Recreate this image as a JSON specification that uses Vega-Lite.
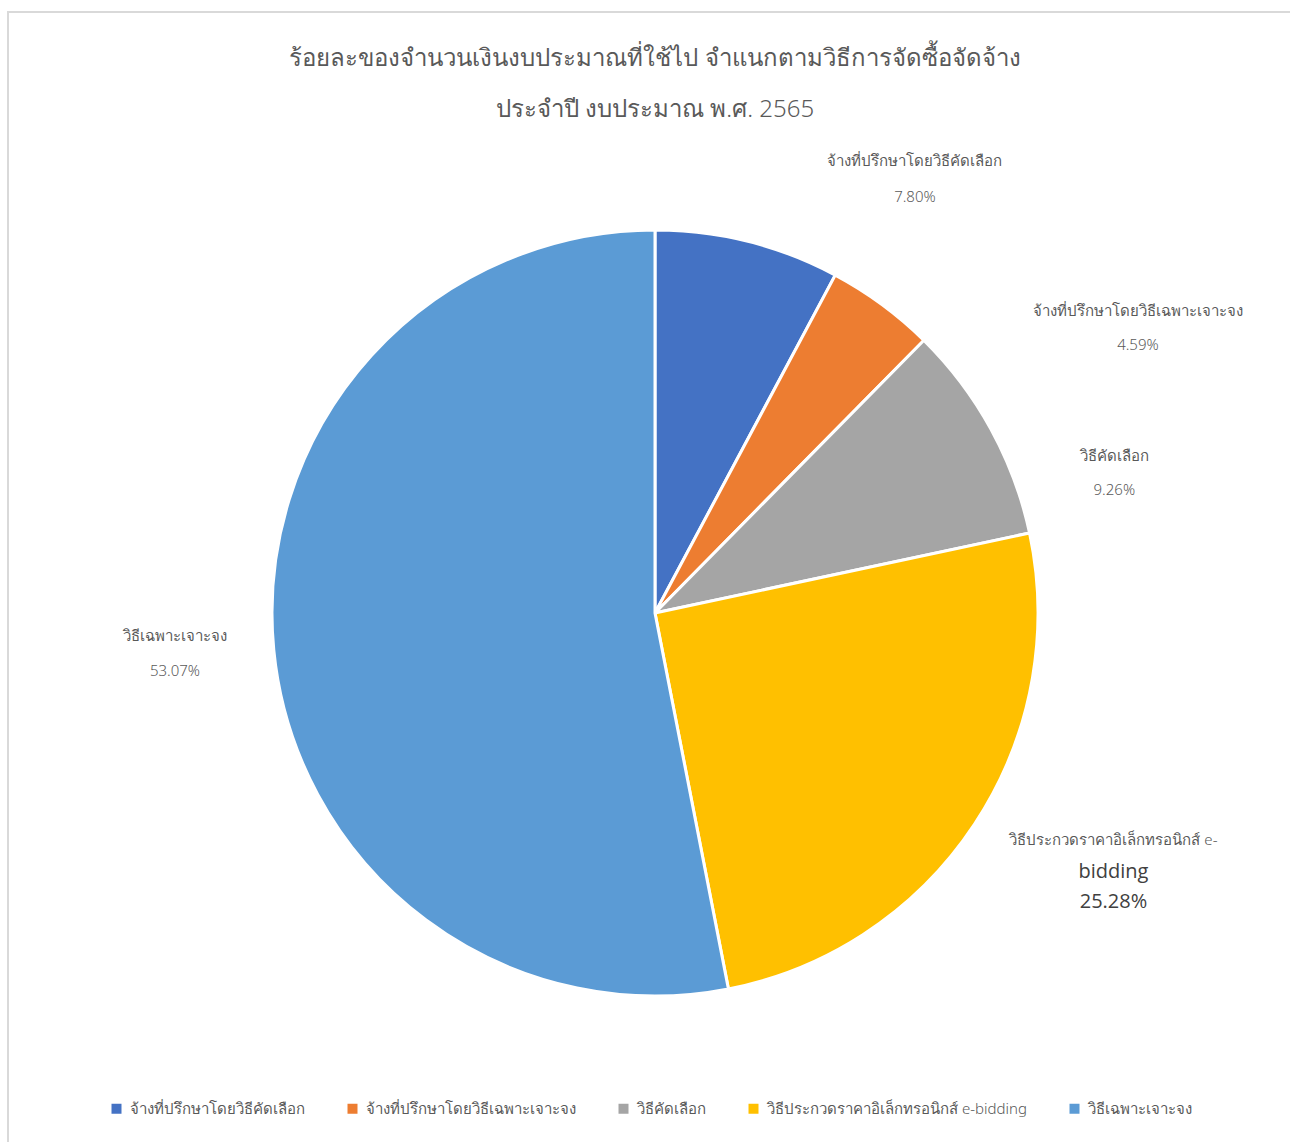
{
  "$schema": "https://vega.github.io/schema/vega-lite/v6.json",
  "autosize": "none",
  "padding": {"left": 8, "top": 12, "right": 0, "bottom": 0},
  "width": 1294,
  "height": 1202,
  "background": "white",
  "view": {"stroke": "#d9d9d9", "strokeWidth": 2},
  "config": {
    "font": "Noto Sans, sans-serif"
  },
  "title": {
    "text": ["ร้อยละของจำนวนเงินงบประมาณที่ใช้ไป จำแนกตามวิธีการจัดซื้อจัดจ้าง", "ประจำปี งบประมาณ พ.ศ. 2565"],
    "anchor": "middle",
    "frame": "group",
    "orient": "top",
    "offset": -110,
    "fontSize": 24,
    "fontWeight": 300,
    "color": "#595959",
    "lineHeight": 51,
    "font": "Noto Sans, sans-serif"
  },
  "data": {
    "values": [
      {"category": "จ้างที่ปรึกษาโดยวิธีคัดเลือก", "share": 0.0780},
      {"category": "จ้างที่ปรึกษาโดยวิธีเฉพาะเจาะจง", "share": 0.0459},
      {"category": "วิธีคัดเลือก", "share": 0.0926},
      {"category": "วิธีประกวดราคาอิเล็กทรอนิกส์ e-bidding", "share": 0.2528},
      {"category": "วิธีเฉพาะเจาะจง", "share": 0.5307}
    ]
  },
  "encoding": {
    "theta": {"field": "share", "type": "quantitative", "stack": true},
    "detail": {"field": "category", "type": "nominal"},
    "order": {"field": "category", "type": "nominal", "sort": "ascending"}
  },
  "layer": [
    {
      "mark": {"type": "arc", "outerRadius": 383, "stroke": "white", "strokeWidth": 3},
      "encoding": {
        "color": {
          "field": "category",
          "type": "nominal",
          "scale": {
            "domain": ["จ้างที่ปรึกษาโดยวิธีคัดเลือก", "จ้างที่ปรึกษาโดยวิธีเฉพาะเจาะจง", "วิธีคัดเลือก", "วิธีประกวดราคาอิเล็กทรอนิกส์ e-bidding", "วิธีเฉพาะเจาะจง"],
            "range": ["#4472C4", "#ED7D31", "#A5A5A5", "#FFC000", "#5B9BD5"]
          },
          "legend": {
            "title": null,
            "orient": "none",
            "legendX": 101,
            "legendY": 1089,
            "direction": "horizontal",
            "symbolType": "square",
            "symbolSize": 100,
            "symbolStrokeWidth": 0,
            "labelFontSize": 15,
            "labelFontWeight": 300,
            "labelColor": "#595959",
            "labelFont": "Noto Sans, sans-serif",
            "labelOffset": 6,
            "columnPadding": 40,
            "labelLimit": 400
          }
        }
      }
    },
    {
      "mark": {"type": "text", "radius": 420, "dx": 158, "dy": -45, "fontSize": 15, "fontWeight": 300, "color": "#595959"},
      "encoding": {"text": {"condition": {"test": "datum.category === 'จ้างที่ปรึกษาโดยวิธีคัดเลือก'", "field": "category"}, "value": ""}}
    },
    {
      "mark": {"type": "text", "radius": 420, "dx": 158, "dy": -9, "fontSize": 15, "fontWeight": 300, "color": "#595959"},
      "encoding": {"text": {"condition": {"test": "datum.category === 'จ้างที่ปรึกษาโดยวิธีคัดเลือก'", "field": "share", "type": "quantitative", "format": ".2%"}, "value": ""}}
    },
    {
      "mark": {"type": "text", "radius": 420, "dx": 234, "dy": 36, "fontSize": 15, "fontWeight": 300, "color": "#595959"},
      "encoding": {"text": {"condition": {"test": "datum.category === 'จ้างที่ปรึกษาโดยวิธีเฉพาะเจาะจง'", "field": "category"}, "value": ""}}
    },
    {
      "mark": {"type": "text", "radius": 420, "dx": 234, "dy": 70, "fontSize": 15, "fontWeight": 300, "color": "#595959"},
      "encoding": {"text": {"condition": {"test": "datum.category === 'จ้างที่ปรึกษาโดยวิธีเฉพาะเจาะจง'", "field": "share", "type": "quantitative", "format": ".2%"}, "value": ""}}
    },
    {
      "mark": {"type": "text", "radius": 420, "dx": 91, "dy": 45, "fontSize": 15, "fontWeight": 300, "color": "#595959"},
      "encoding": {"text": {"condition": {"test": "datum.category === 'วิธีคัดเลือก'", "field": "category"}, "value": ""}}
    },
    {
      "mark": {"type": "text", "radius": 420, "dx": 91, "dy": 79, "fontSize": 15, "fontWeight": 300, "color": "#595959"},
      "encoding": {"text": {"condition": {"test": "datum.category === 'วิธีคัดเลือก'", "field": "share", "type": "quantitative", "format": ".2%"}, "value": ""}}
    },
    {
      "mark": {"type": "text", "radius": 420, "dx": 108, "dy": -4, "fontSize": 15, "fontWeight": 300, "color": "#595959"},
      "encoding": {"text": {"condition": {"test": "datum.category === 'วิธีประกวดราคาอิเล็กทรอนิกส์ e-bidding'", "value": "วิธีประกวดราคาอิเล็กทรอนิกส์ e-"}, "value": ""}}
    },
    {
      "mark": {"type": "text", "radius": 420, "dx": 108, "dy": 28, "fontSize": 20, "color": "#404040", "font": "Open Sans"},
      "encoding": {"text": {"condition": {"test": "datum.category === 'วิธีประกวดราคาอิเล็กทรอนิกส์ e-bidding'", "value": "bidding"}, "value": ""}}
    },
    {
      "mark": {"type": "text", "radius": 420, "dx": 108, "dy": 58, "fontSize": 20, "color": "#404040", "font": "Open Sans"},
      "encoding": {"text": {"condition": {"test": "datum.category === 'วิธีประกวดราคาอิเล็กทรอนิกส์ e-bidding'", "field": "share", "type": "quantitative", "format": ".2%"}, "value": ""}}
    },
    {
      "mark": {"type": "text", "radius": 420, "dx": -62, "dy": -17, "fontSize": 15, "fontWeight": 300, "color": "#595959"},
      "encoding": {"text": {"condition": {"test": "datum.category === 'วิธีเฉพาะเจาะจง'", "field": "category"}, "value": ""}}
    },
    {
      "mark": {"type": "text", "radius": 420, "dx": -62, "dy": 18, "fontSize": 15, "fontWeight": 300, "color": "#595959"},
      "encoding": {"text": {"condition": {"test": "datum.category === 'วิธีเฉพาะเจาะจง'", "field": "share", "type": "quantitative", "format": ".2%"}, "value": ""}}
    }
  ]
}
